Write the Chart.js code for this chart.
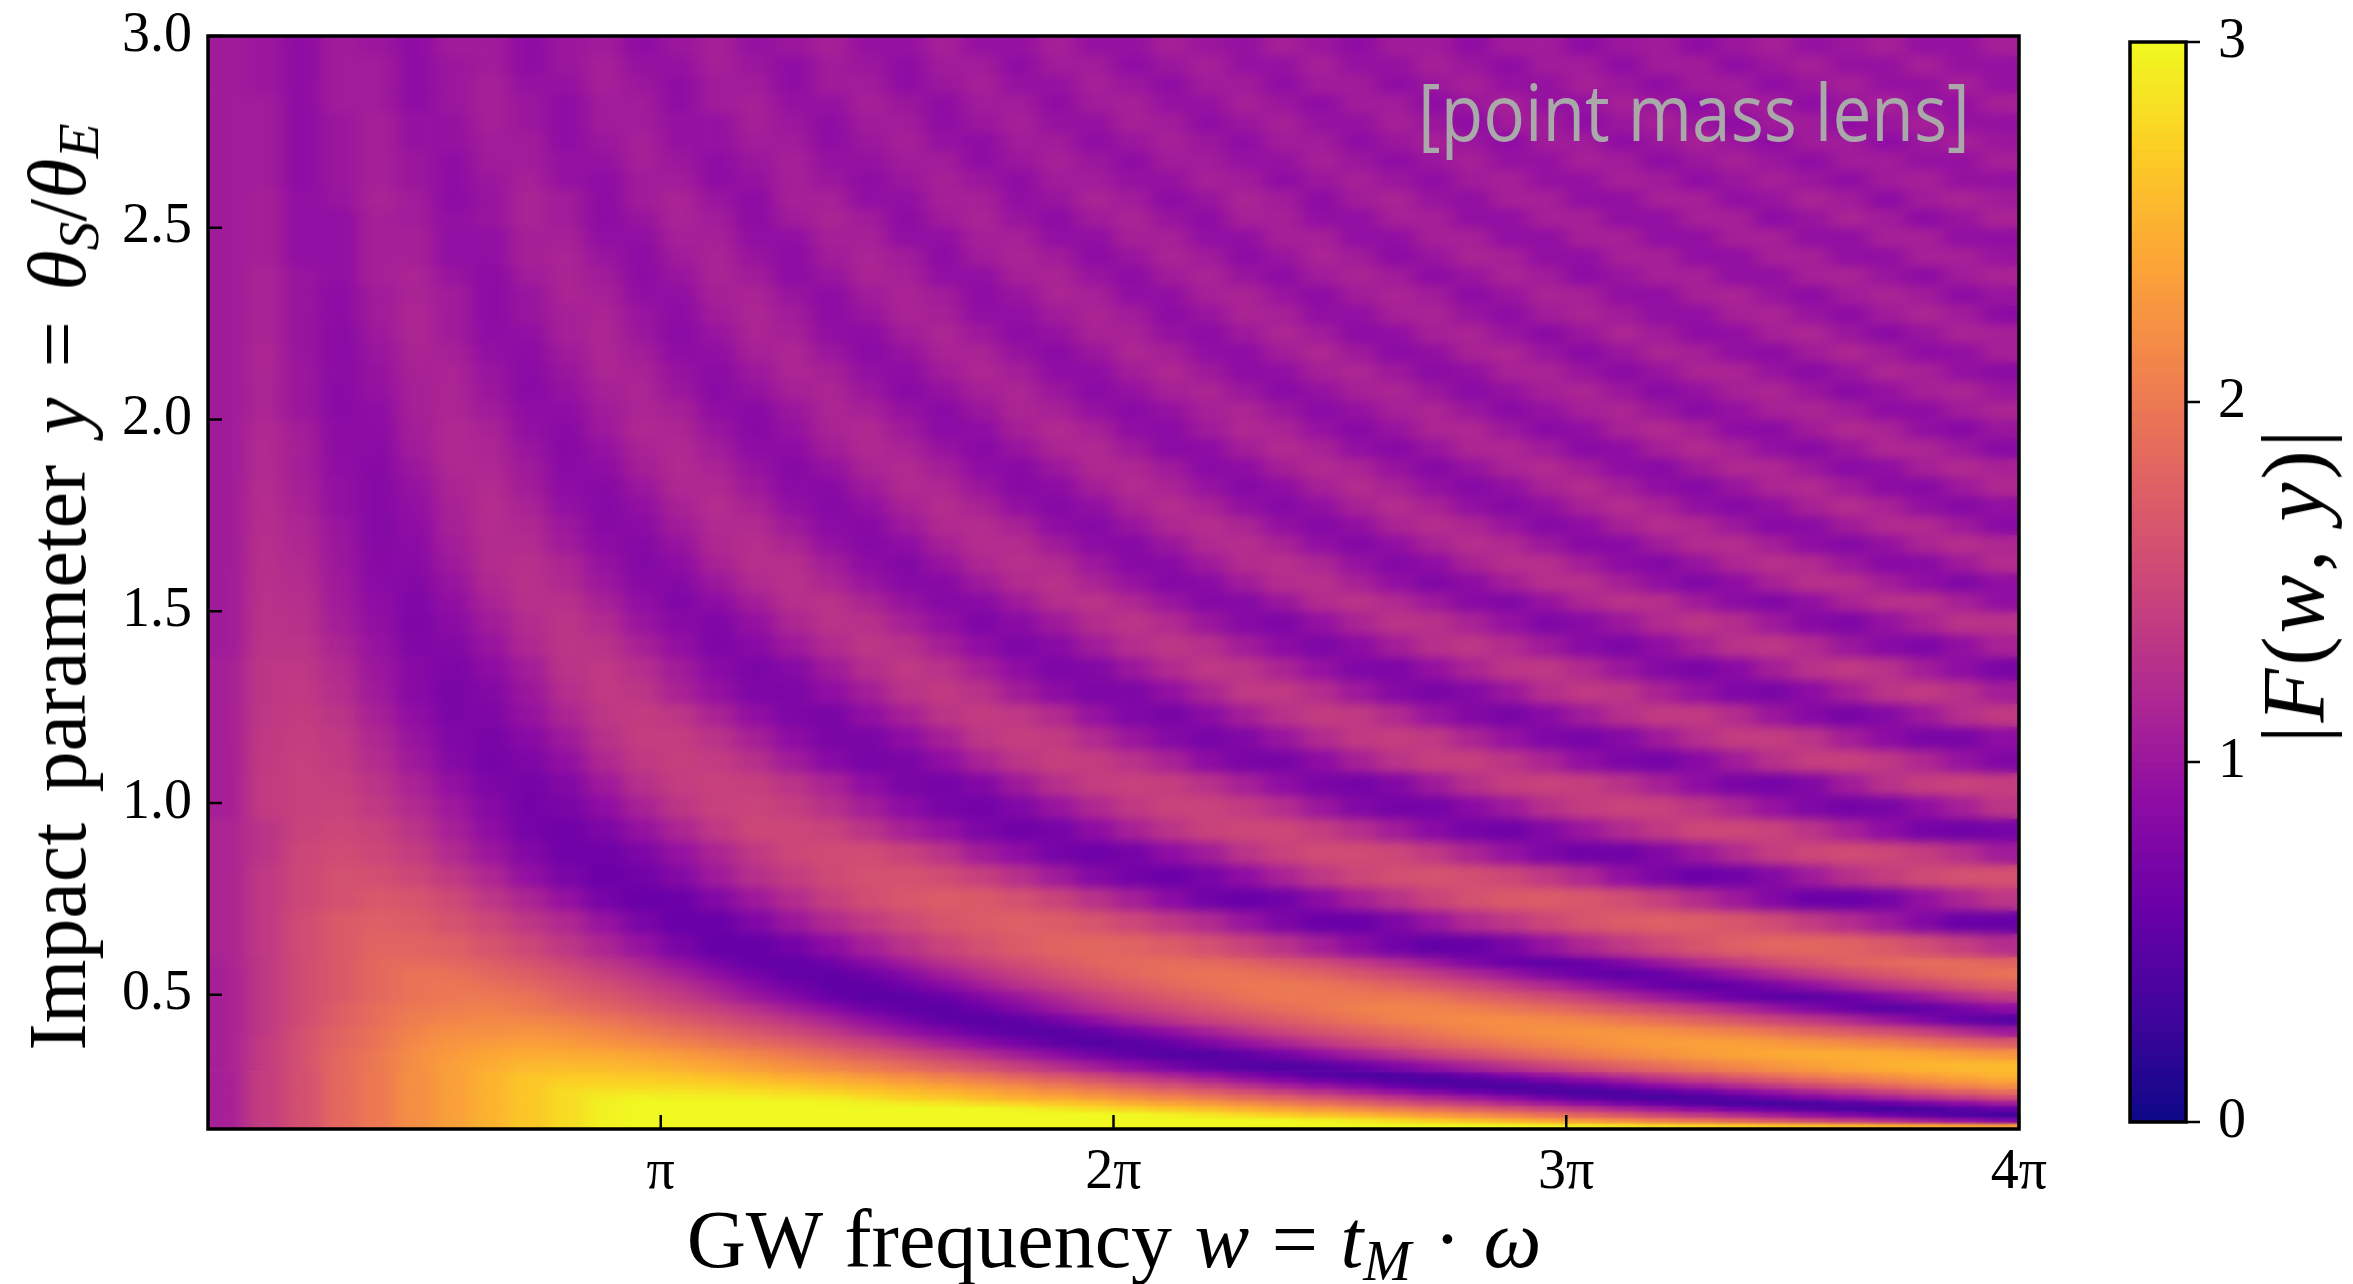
<!DOCTYPE html>
<html>
<head>
<meta charset="utf-8">
<script src="https://cdn.jsdelivr.net/npm/chart.js@4"></script>
<style>
  body { margin: 0; background: #fff; width: 2353px; height: 1284px; overflow: hidden; position: relative; }
  canvas { position: absolute; top: 0; }
  #main { left: 0; }
  #cbar { left: 2100px; }
  .lbl { position: absolute; white-space: nowrap; font-family: "Liberation Serif", serif; color: #000; line-height: 1; }
  .lbl sub { font-size: .7em; vertical-align: -.22em; line-height: 0; }
  #ytitle { left: 58px; top: 587px; font-size: 82px; word-spacing: 10px; transform: translate(-50%, -50%) rotate(-90deg); }
  #xtitle { left: 1114px; top: 1240px; font-size: 82px; word-spacing: 2px; transform: translate(-50%, -50%); }
  #ctitle { left: 2294px; top: 585px; font-size: 88px; letter-spacing: 3px; transform: translate(-50%, -50%) rotate(-90deg); }
  #note { left: 1418px; top: 72px; font-family: "Open Sans", sans-serif; font-size: 78px; color: #a9a9a9; transform: scaleX(0.89); transform-origin: left center; }
</style>
</head>
<body>
<canvas id="main" width="2353" height="1284"></canvas>
<canvas id="cbar" width="253" height="1284"></canvas>
<div class="lbl" id="ytitle">Impact parameter <i>y</i> = <i>θ<sub>S</sub></i>/<i>θ<sub>E</sub></i></div>
<div class="lbl" id="xtitle">GW frequency <i>w</i> = <i>t<sub>M</sub></i> · <i>ω</i></div>
<div class="lbl" id="ctitle">|<i>F</i>(<i>w</i>, <i>y</i>)|</div>
<div class="lbl" id="note">[point mass lens]</div>
<script>
// column centres in w
let wValues = [0.131,0.393,0.654,0.916,1.178,1.44,1.702,1.963,2.225,2.487,2.749,3.011,3.272,3.534,3.796,4.058,4.32,4.581,4.843,5.105,5.367,5.629,5.89,6.152,6.414,6.676,6.938,7.199,7.461,7.723,7.985,8.247,8.508,8.77,9.032,9.294,9.556,9.817,10.079,10.341,10.603,10.865,11.126,11.388,11.65,11.912,12.174,12.435];
// row edges in y, top to bottom
let yEdges = [3,2.95,2.9,2.85,2.8,2.75,2.7,2.65,2.6,2.55,2.5,2.45,2.4,2.35,2.3,2.25,2.2,2.15,2.1,2.05,2,1.95,1.9,1.85,1.8,1.75,1.7,1.65,1.6,1.55,1.5,1.44,1.38,1.32,1.26,1.2,1.14,1.08,1.02,0.96,0.9,0.84,0.78,0.72,0.66,0.6,0.57,0.54,0.51,0.48,0.45,0.42,0.39,0.36,0.33,0.3,0.285,0.27,0.255,0.24,0.225,0.21,0.195,0.18,0.165,0.15];
// |F|, one line per row
let fValues = [
[1.05,1,0.9,1.05,1,0.9,1.05,1.05,0.9,1,1.05,0.9,1,1.1,0.95,1,1.1,0.95,0.95,1.1,0.95,0.95,1.1,0.95,0.95,1.1,1,0.95,1.1,1,0.9,1.05,1.05,0.9,1.05,1.05,0.9,1,1.05,0.9,1,1.1,0.95,1,1.1,0.95,0.95,1.1],
[1.05,1,0.9,1.05,1.05,0.9,1,1.05,0.9,1,1.1,0.95,0.95,1.1,1,0.9,1.05,1,0.9,1.05,1.05,0.9,1.05,1.05,0.9,1,1.1,0.95,0.95,1.1,0.95,0.95,1.1,1,0.9,1.05,1.05,0.9,1.05,1.05,0.9,1,1.1,0.95,0.95,1.1,0.95,0.95],
[1.05,1,0.9,1.05,1.05,0.9,1,1.1,0.95,0.95,1.1,1,0.9,1.05,1.05,0.9,1.05,1.05,0.9,1,1.1,0.95,0.95,1.1,1,0.9,1.05,1.05,0.9,1.05,1.05,0.9,1,1.1,0.95,0.95,1.1,1,0.9,1.05,1.05,0.9,1,1.1,0.95,0.95,1.1,0.95],
[1.05,1.05,0.9,1.05,1.05,0.9,1,1.1,1,0.9,1.05,1.05,0.9,1.05,1.1,0.95,0.95,1.1,1,0.9,1.05,1.05,0.9,1.05,1.1,0.95,0.95,1.1,1,0.9,1.05,1.05,0.9,1,1.1,0.95,0.95,1.1,1,0.9,1.05,1.05,0.9,1,1.1,0.95,0.95,1.1],
[1.05,1.05,0.9,1,1.1,0.95,0.95,1.1,1,0.9,1.05,1.05,0.95,0.95,1.1,1,0.9,1.05,1.05,0.9,1,1.1,0.95,0.95,1.1,1.05,0.9,1,1.1,0.95,0.95,1.1,1,0.9,1.05,1.05,0.9,1,1.1,1,0.9,1.05,1.05,0.9,1,1.1,0.95,0.95],
[1.05,1.05,0.9,1,1.1,0.95,0.95,1.05,1.05,0.9,1,1.1,0.95,0.95,1.05,1.05,0.9,1,1.1,0.95,0.9,1.05,1.05,0.9,1,1.1,1,0.9,1.05,1.05,0.9,1,1.1,1,0.9,1.05,1.05,0.9,1,1.1,1,0.9,1.05,1.05,0.9,1,1.1,1],
[1.05,1.05,0.9,1,1.1,1,0.9,1.05,1.05,0.95,0.95,1.1,1,0.9,1,1.1,0.95,0.95,1.05,1.05,0.9,1,1.1,1,0.9,1.05,1.05,0.95,0.95,1.1,1,0.9,1,1.1,0.95,0.95,1.1,1.05,0.9,1,1.1,1,0.9,1.05,1.05,0.95,0.95,1.1],
[1.05,1.05,0.9,1,1.1,1,0.9,1,1.1,0.95,0.9,1.05,1.05,0.9,0.95,1.1,1,0.9,1,1.1,1,0.9,1.05,1.05,0.95,0.95,1.1,1.05,0.9,1,1.1,1,0.9,1.05,1.1,0.95,0.95,1.1,1.05,0.9,1,1.1,1,0.9,1.05,1.1,0.95,0.95],
[1.05,1.1,0.92,0.98,1.14,1.05,0.88,0.98,1.14,1.05,0.88,1.05,1.14,0.98,0.88,1.1,1.1,0.92,0.92,1.1,1.1,0.92,0.98,1.14,1.05,0.88,0.98,1.14,1.05,0.88,1.05,1.14,0.98,0.92,1.1,1.1,0.92,0.92,1.1,1.1,0.92,0.98,1.14,1.05,0.88,1.05,1.14,1.05],
[1.05,1.1,0.92,0.92,1.1,1.05,0.92,0.98,1.14,1.05,0.88,0.98,1.14,1.05,0.88,1.05,1.14,1.05,0.88,1.05,1.14,0.98,0.88,1.05,1.14,0.98,0.88,1.1,1.1,0.92,0.92,1.1,1.1,0.92,0.92,1.1,1.1,0.92,0.92,1.1,1.1,0.88,0.98,1.14,1.05,0.88,0.98,1.14],
[1.05,1.1,0.92,0.92,1.1,1.1,0.92,0.92,1.1,1.1,0.92,0.92,1.1,1.1,0.92,0.92,1.1,1.1,0.92,0.92,1.1,1.1,0.92,0.92,1.1,1.1,0.92,0.92,1.1,1.1,0.92,0.92,1.1,1.1,0.92,0.92,1.1,1.1,0.92,0.92,1.1,1.1,0.92,0.92,1.1,1.1,0.92,0.92],
[1.05,1.1,0.92,0.92,1.1,1.1,0.92,0.92,1.1,1.14,0.98,0.88,1.05,1.14,0.98,0.88,1.05,1.14,1.05,0.88,1.05,1.14,1.05,0.88,0.98,1.14,1.05,0.88,0.98,1.14,1.05,0.88,0.98,1.14,1.1,0.92,0.92,1.1,1.1,0.92,0.92,1.1,1.1,0.92,0.92,1.1,1.1,0.98],
[1.05,1.14,0.98,0.92,1.1,1.14,0.98,0.88,1.05,1.14,1.05,0.88,0.98,1.14,1.05,0.88,0.98,1.14,1.1,0.92,0.92,1.1,1.14,0.98,0.88,1.05,1.14,0.98,0.88,1.05,1.14,1.05,0.88,0.98,1.14,1.05,0.88,0.98,1.1,1.1,0.92,0.92,1.1,1.14,0.98,0.88,1.05,1.14],
[1.05,1.14,0.98,0.88,1.05,1.14,1.05,0.88,0.98,1.14,1.1,0.92,0.92,1.1,1.14,0.98,0.88,1.05,1.14,1.05,0.88,0.98,1.14,1.1,0.92,0.92,1.1,1.14,0.98,0.88,1.05,1.14,1.05,0.88,0.98,1.14,1.1,0.92,0.92,1.1,1.14,0.98,0.88,1.05,1.14,1.05,0.88,0.98],
[1.05,1.14,0.98,0.88,1.05,1.16,1.05,0.88,0.98,1.1,1.14,0.98,0.88,1.05,1.16,1.05,0.88,0.98,1.14,1.1,0.92,0.92,1.05,1.14,1.05,0.88,0.98,1.14,1.1,0.92,0.92,1.1,1.14,0.98,0.88,1.05,1.14,1.05,0.92,0.92,1.1,1.14,0.98,0.88,1.05,1.16,1.05,0.88],
[1.05,1.14,0.98,0.86,1.02,1.16,1.05,0.9,0.92,1.1,1.16,1,0.86,0.98,1.14,1.1,0.92,0.88,1.05,1.16,1.02,0.88,0.95,1.12,1.12,0.95,0.88,1.02,1.16,1.05,0.88,0.92,1.1,1.14,0.98,0.86,1,1.16,1.05,0.9,0.92,1.1,1.16,1,0.86,0.98,1.14,1.1],
[1.05,1.16,0.98,0.86,0.99,1.14,1.1,0.93,0.88,1.04,1.16,1.07,0.9,0.92,1.1,1.16,1,0.86,0.96,1.13,1.13,0.96,0.86,1,1.16,1.09,0.92,0.9,1.07,1.17,1.02,0.87,0.93,1.12,1.15,0.98,0.86,0.99,1.15,1.09,0.93,0.88,1.05,1.17,1.05,0.9,0.92,1.1],
[1.05,1.16,1,0.87,0.96,1.12,1.14,0.98,0.86,0.99,1.15,1.12,0.96,0.87,1.01,1.16,1.1,0.93,0.88,1.05,1.17,1.08,0.9,0.9,1.07,1.17,1.03,0.88,0.92,1.1,1.16,1.02,0.87,0.93,1.12,1.14,0.98,0.86,0.97,1.14,1.14,0.97,0.86,0.99,1.16,1.11,0.94,0.87],
[1.05,1.15,1,0.85,0.95,1.1,1.15,1,0.85,0.95,1.1,1.15,1,0.85,0.95,1.1,1.15,1,0.85,0.95,1.1,1.15,1,0.85,0.95,1.1,1.15,1,0.85,0.95,1.1,1.15,1,0.85,0.95,1.1,1.15,1,0.85,0.95,1.1,1.15,1,0.85,0.95,1.1,1.15,1],
[1.05,1.15,1,0.85,0.9,1.1,1.15,1.05,0.9,0.9,1.05,1.15,1.1,0.9,0.85,1,1.15,1.1,0.95,0.85,1,1.15,1.1,0.95,0.85,0.95,1.1,1.15,1,0.85,0.95,1.1,1.15,1,0.85,0.95,1.1,1.15,1,0.85,0.95,1.1,1.15,1.05,0.9,0.9,1.05,1.15],
[1.05,1.19,1.07,0.88,0.88,1.08,1.19,1.12,0.93,0.85,1.02,1.18,1.15,0.98,0.84,0.95,1.13,1.19,1.03,0.86,0.9,1.09,1.2,1.1,0.91,0.86,1.04,1.18,1.13,0.95,0.84,0.97,1.15,1.17,1.01,0.85,0.92,1.12,1.2,1.09,0.89,0.87,1.06,1.19,1.13,0.93,0.84,0.99],
[1.05,1.2,1.09,0.88,0.86,1.05,1.19,1.15,0.98,0.84,0.95,1.13,1.19,1.05,0.88,0.88,1.07,1.19,1.13,0.96,0.84,0.97,1.15,1.19,1.03,0.86,0.88,1.08,1.2,1.12,0.93,0.84,0.98,1.16,1.17,1.04,0.85,0.9,1.09,1.2,1.1,0.93,0.85,1,1.17,1.16,1.01,0.85],
[1.05,1.2,1.08,0.9,0.84,1.01,1.18,1.17,1.03,0.85,0.89,1.09,1.2,1.13,0.96,0.83,0.95,1.14,1.2,1.08,0.9,0.84,1.01,1.18,1.17,1.03,0.85,0.9,1.09,1.2,1.13,0.96,0.83,0.96,1.14,1.2,1.07,0.89,0.85,1.03,1.18,1.17,1.01,0.85,0.91,1.1,1.2,1.12],
[1.05,1.22,1.1,0.93,0.82,0.96,1.14,1.21,1.06,0.88,0.84,1,1.18,1.18,1.02,0.86,0.85,1.04,1.2,1.17,0.99,0.84,0.88,1.08,1.21,1.13,0.96,0.82,0.91,1.1,1.22,1.11,0.94,0.82,0.93,1.13,1.22,1.08,0.91,0.82,0.98,1.16,1.2,1.04,0.87,0.84,1.02,1.18],
[1.05,1.23,1.12,0.93,0.82,0.93,1.12,1.23,1.12,0.93,0.82,0.93,1.12,1.23,1.12,0.93,0.82,0.93,1.12,1.23,1.12,0.93,0.82,0.93,1.12,1.23,1.12,0.93,0.82,0.93,1.12,1.23,1.12,0.93,0.82,0.93,1.12,1.23,1.12,0.93,0.82,0.93,1.12,1.23,1.12,0.93,0.82,0.93],
[1.05,1.24,1.16,0.98,0.82,0.9,1.11,1.22,1.18,1.01,0.84,0.87,1.06,1.2,1.2,1.03,0.86,0.84,1.02,1.2,1.22,1.11,0.9,0.82,0.98,1.17,1.24,1.14,0.93,0.81,0.93,1.14,1.24,1.16,0.98,0.82,0.9,1.11,1.23,1.18,1.01,0.84,0.87,1.06,1.2,1.2,1.03,0.86],
[1.05,1.25,1.17,1,0.83,0.87,1.07,1.21,1.21,1.04,0.88,0.82,0.97,1.18,1.25,1.14,0.94,0.82,0.9,1.1,1.23,1.22,1.04,0.87,0.83,1,1.19,1.24,1.12,0.92,0.8,0.92,1.12,1.24,1.19,1.01,0.84,0.85,1.05,1.21,1.23,1.08,0.9,0.81,0.95,1.15,1.25,1.17],
[1.05,1.26,1.2,1.01,0.84,0.85,1.03,1.22,1.26,1.16,0.95,0.8,0.9,1.12,1.25,1.25,1.07,0.88,0.8,0.97,1.17,1.26,1.2,1.01,0.84,0.85,1.03,1.22,1.26,1.16,0.95,0.8,0.9,1.12,1.25,1.25,1.07,0.88,0.8,0.97,1.17,1.26,1.2,1.01,0.84,0.85,1.03,1.22],
[1.05,1.27,1.22,1.03,0.86,0.81,0.97,1.18,1.28,1.18,1.01,0.84,0.82,1.01,1.2,1.28,1.16,0.98,0.83,0.84,1.03,1.21,1.28,1.13,0.96,0.8,0.86,1.06,1.24,1.26,1.11,0.93,0.79,0.88,1.08,1.25,1.26,1.09,0.92,0.78,0.9,1.11,1.27,1.25,1.07,0.91,0.78,0.92],
[1.05,1.28,1.25,1.04,0.89,0.78,0.93,1.13,1.27,1.27,1.1,0.92,0.78,0.89,1.08,1.25,1.29,1.14,0.96,0.81,0.85,1.04,1.24,1.3,1.17,0.98,0.81,0.82,1,1.22,1.3,1.19,1.02,0.84,0.79,0.96,1.17,1.29,1.25,1.04,0.87,0.78,0.93,1.13,1.27,1.27,1.1,0.92],
[1.05,1.29,1.27,1.08,0.92,0.77,0.87,1.05,1.22,1.31,1.2,0.98,0.84,0.78,0.94,1.16,1.29,1.27,1.1,0.93,0.77,0.87,1.03,1.22,1.31,1.2,1,0.83,0.77,0.94,1.14,1.3,1.27,1.12,0.95,0.78,0.85,1.01,1.2,1.31,1.22,1.02,0.84,0.77,0.95,1.12,1.29,1.28],
[1.05,1.3,1.3,1.14,0.96,0.79,0.8,0.97,1.18,1.32,1.29,1.11,0.93,0.77,0.84,1.02,1.2,1.33,1.27,1.09,0.9,0.75,0.85,1.05,1.23,1.33,1.26,1.05,0.88,0.75,0.88,1.08,1.26,1.33,1.21,1.03,0.85,0.75,0.91,1.1,1.28,1.33,1.2,1,0.84,0.76,0.93,1.12],
[1.1,1.33,1.34,1.2,1,0.84,0.75,0.88,1.07,1.3,1.35,1.24,1.05,0.86,0.74,0.83,1.03,1.24,1.35,1.28,1.09,0.9,0.75,0.8,1,1.2,1.34,1.31,1.14,0.95,0.78,0.77,0.94,1.14,1.32,1.34,1.2,1,0.82,0.74,0.86,1.08,1.28,1.35,1.28,1.07,0.89,0.74],
[1.1,1.33,1.36,1.24,1.03,0.84,0.73,0.81,1,1.24,1.36,1.32,1.12,0.94,0.76,0.75,0.91,1.08,1.3,1.37,1.28,1.06,0.88,0.75,0.76,0.93,1.14,1.35,1.36,1.22,1.02,0.83,0.73,0.82,1,1.24,1.36,1.32,1.12,0.95,0.78,0.74,0.88,1.09,1.3,1.37,1.27,1.07],
[1.1,1.34,1.39,1.3,1.1,0.9,0.74,0.77,0.95,1.15,1.33,1.39,1.32,1.13,0.92,0.76,0.73,0.92,1.1,1.31,1.39,1.34,1.2,0.95,0.78,0.72,0.87,1.08,1.28,1.39,1.36,1.2,0.97,0.8,0.72,0.85,1.05,1.25,1.38,1.37,1.22,1,0.83,0.72,0.82,1.02,1.25,1.37],
[1.1,1.36,1.41,1.35,1.17,0.97,0.78,0.72,0.84,1.03,1.27,1.4,1.4,1.29,1.1,0.88,0.74,0.74,0.9,1.1,1.33,1.41,1.38,1.2,1,0.82,0.71,0.79,0.98,1.2,1.37,1.41,1.35,1.15,0.95,0.78,0.71,0.82,1.03,1.25,1.39,1.4,1.3,1.08,0.88,0.74,0.73,0.9],
[1.1,1.37,1.43,1.38,1.22,1.02,0.82,0.7,0.76,0.93,1.18,1.36,1.42,1.39,1.26,1.05,0.84,0.71,0.74,0.91,1.13,1.32,1.42,1.4,1.28,1.12,0.88,0.73,0.72,0.88,1.1,1.3,1.42,1.42,1.31,1.14,0.92,0.75,0.7,0.84,1.05,1.27,1.41,1.43,1.34,1.17,0.96,0.79],
[1.1,1.38,1.44,1.42,1.3,1.13,0.93,0.75,0.69,0.8,1.03,1.26,1.4,1.44,1.42,1.3,1.13,0.9,0.73,0.69,0.8,1.03,1.26,1.4,1.44,1.41,1.28,1.1,0.9,0.73,0.69,0.8,1.03,1.26,1.41,1.45,1.41,1.28,1.1,0.9,0.73,0.69,0.8,1.05,1.28,1.41,1.45,1.41],
[1.1,1.38,1.44,1.46,1.35,1.2,1.02,0.83,0.68,0.73,0.9,1.12,1.32,1.44,1.47,1.41,1.26,1.08,0.88,0.72,0.67,0.78,0.98,1.18,1.36,1.45,1.46,1.38,1.23,1,0.8,0.69,0.69,0.86,1.03,1.26,1.4,1.46,1.44,1.32,1.15,0.95,0.78,0.68,0.73,0.92,1.1,1.32],
[1.15,1.3,1.45,1.5,1.45,1.3,1.1,0.9,0.7,0.65,0.75,0.95,1.15,1.35,1.5,1.5,1.45,1.3,1.1,0.95,0.75,0.65,0.7,0.9,1.1,1.3,1.45,1.5,1.5,1.4,1.25,1.05,0.85,0.7,0.65,0.8,1,1.2,1.35,1.5,1.5,1.45,1.3,1.1,0.9,0.7,0.65,0.7],
[1.15,1.3,1.5,1.55,1.5,1.4,1.2,1,0.8,0.65,0.65,0.75,0.95,1.15,1.35,1.5,1.55,1.55,1.45,1.3,1.05,0.9,0.7,0.63,0.7,0.9,1.05,1.3,1.45,1.55,1.55,1.5,1.35,1.15,0.95,0.75,0.65,0.65,0.8,1,1.2,1.4,1.5,1.55,1.5,1.4,1.25,1.05],
[1.15,1.35,1.5,1.6,1.58,1.5,1.36,1.17,0.93,0.74,0.62,0.66,0.82,1.04,1.26,1.4,1.53,1.6,1.61,1.55,1.43,1.26,1.04,0.82,0.68,0.61,0.71,0.9,1.13,1.34,1.49,1.58,1.62,1.58,1.5,1.36,1.17,0.93,0.74,0.62,0.66,0.82,1.04,1.26,1.4,1.53,1.6,1.61],
[1.15,1.35,1.5,1.6,1.68,1.64,1.52,1.33,1.15,0.94,0.7,0.6,0.62,0.8,1.02,1.22,1.42,1.57,1.67,1.72,1.7,1.6,1.47,1.28,1.09,0.87,0.66,0.59,0.66,0.87,1.09,1.28,1.47,1.6,1.7,1.72,1.67,1.57,1.42,1.22,1.02,0.8,0.62,0.6,0.7,0.94,1.15,1.33],
[1.15,1.35,1.55,1.7,1.75,1.72,1.62,1.5,1.33,1.18,0.96,0.73,0.59,0.6,0.78,1,1.2,1.37,1.52,1.65,1.72,1.75,1.72,1.63,1.5,1.34,1.2,0.98,0.75,0.6,0.6,0.75,0.98,1.2,1.34,1.5,1.63,1.72,1.75,1.73,1.66,1.54,1.38,1.22,1.03,0.8,0.6,0.58],
[1.15,1.35,1.55,1.7,1.8,1.8,1.75,1.63,1.5,1.33,1.15,0.95,0.72,0.57,0.56,0.68,0.88,1.1,1.3,1.47,1.6,1.72,1.8,1.82,1.79,1.71,1.6,1.45,1.28,1.08,0.87,0.66,0.55,0.58,0.72,0.96,1.17,1.35,1.51,1.65,1.75,1.81,1.82,1.78,1.69,1.56,1.41,1.24],
[1.12,1.35,1.55,1.7,1.85,1.87,1.83,1.75,1.63,1.49,1.33,1.15,0.94,0.71,0.56,0.54,0.64,0.85,1.07,1.27,1.43,1.58,1.7,1.81,1.86,1.88,1.85,1.78,1.67,1.54,1.38,1.2,1,0.77,0.6,0.52,0.6,0.77,1,1.2,1.38,1.54,1.67,1.78,1.85,1.88,1.87,1.8],
[1.1,1.35,1.55,1.7,1.85,1.95,1.93,1.84,1.74,1.61,1.46,1.3,1.1,0.88,0.68,0.54,0.53,0.65,0.83,1.07,1.27,1.43,1.58,1.72,1.83,1.9,1.95,1.94,1.87,1.78,1.66,1.52,1.37,1.18,0.98,0.75,0.59,0.51,0.59,0.75,0.98,1.18,1.37,1.52,1.66,1.78,1.87,1.94],
[1.1,1.35,1.55,1.7,1.85,1.95,1.98,1.92,1.83,1.71,1.58,1.43,1.27,1.07,0.85,0.66,0.53,0.53,0.66,0.85,1.07,1.27,1.43,1.58,1.71,1.83,1.92,1.98,2,1.96,1.88,1.78,1.66,1.52,1.36,1.18,0.98,0.78,0.6,0.5,0.58,0.74,0.93,1.15,1.33,1.48,1.63,1.76],
[1.1,1.35,1.55,1.7,1.85,1.95,2,2,1.95,1.8,1.7,1.55,1.4,1.2,1,0.8,0.6,0.5,0.5,0.6,0.8,1,1.2,1.4,1.55,1.7,1.8,1.95,2,2,2,2,1.95,1.8,1.7,1.55,1.4,1.2,1,0.8,0.6,0.5,0.5,0.6,0.8,1,1.2,1.4],
[1.1,1.35,1.55,1.75,1.9,2,2.05,2.07,2,1.91,1.81,1.69,1.55,1.42,1.25,1.06,0.86,0.65,0.52,0.5,0.62,0.82,1.02,1.22,1.39,1.52,1.67,1.79,1.89,1.98,2.06,2.1,2.09,2.05,1.97,1.88,1.76,1.63,1.5,1.36,1.18,0.97,0.78,0.6,0.47,0.54,0.7,0.9],
[1.1,1.35,1.55,1.75,1.9,2.05,2.1,2.15,2.13,2.06,1.97,1.86,1.73,1.59,1.46,1.3,1.13,0.91,0.7,0.53,0.45,0.53,0.7,0.91,1.13,1.3,1.46,1.59,1.73,1.86,1.97,2.06,2.13,2.18,2.19,2.15,2.08,1.99,1.89,1.77,1.63,1.49,1.35,1.18,0.98,0.76,0.56,0.46],
[1.1,1.35,1.6,1.8,1.95,2.1,2.2,2.2,2.24,2.2,2.12,2.01,1.9,1.78,1.66,1.52,1.35,1.14,0.94,0.76,0.58,0.48,0.46,0.56,0.72,0.91,1.1,1.3,1.49,1.63,1.75,1.87,2,2.1,2.18,2.23,2.26,2.25,2.21,2.15,2.06,1.95,1.82,1.7,1.58,1.43,1.22,1.02],
[1.1,1.4,1.6,1.8,1.95,2.15,2.25,2.3,2.35,2.31,2.24,2.17,2.08,1.98,1.87,1.75,1.6,1.45,1.26,1.06,0.87,0.69,0.53,0.43,0.47,0.58,0.76,0.95,1.14,1.33,1.5,1.66,1.8,1.92,2.03,2.12,2.2,2.27,2.33,2.35,2.34,2.3,2.23,2.15,2.07,1.96,1.85,1.72],
[1.1,1.4,1.6,1.85,2,2.2,2.3,2.4,2.45,2.44,2.42,2.37,2.3,2.21,2.11,2,1.87,1.73,1.58,1.42,1.24,1.05,0.86,0.68,0.52,0.43,0.44,0.54,0.7,0.9,1.09,1.27,1.45,1.61,1.77,1.9,2.03,2.13,2.22,2.31,2.38,2.42,2.45,2.46,2.44,2.39,2.33,2.25],
[1.1,1.4,1.6,1.85,2,2.2,2.35,2.45,2.55,2.55,2.54,2.51,2.46,2.39,2.3,2.21,2.1,2,1.87,1.73,1.59,1.42,1.24,1.06,0.88,0.7,0.54,0.44,0.4,0.47,0.6,0.78,0.95,1.14,1.31,1.49,1.65,1.79,1.92,2.03,2.14,2.25,2.34,2.42,2.48,2.53,2.55,2.56],
[1.1,1.4,1.6,1.85,2,2.2,2.35,2.5,2.6,2.65,2.65,2.63,2.6,2.54,2.48,2.4,2.33,2.23,2.13,2.02,1.89,1.74,1.6,1.44,1.28,1.1,0.94,0.76,0.6,0.46,0.39,0.42,0.52,0.66,0.83,1,1.17,1.34,1.5,1.66,1.81,1.94,2.06,2.17,2.27,2.36,2.44,2.51],
[1.1,1.4,1.6,1.85,2,2.2,2.35,2.5,2.65,2.7,2.71,2.7,2.68,2.64,2.59,2.53,2.46,2.38,2.28,2.17,2.06,1.94,1.8,1.66,1.5,1.35,1.18,1,0.83,0.66,0.52,0.43,0.37,0.44,0.54,0.7,0.86,1.03,1.21,1.38,1.53,1.68,1.83,1.97,2.08,2.19,2.3,2.39],
[1.1,1.4,1.6,1.85,2,2.2,2.35,2.5,2.65,2.75,2.77,2.78,2.77,2.75,2.71,2.66,2.6,2.53,2.45,2.36,2.26,2.14,2.02,1.89,1.75,1.61,1.46,1.29,1.12,0.96,0.8,0.62,0.5,0.42,0.37,0.44,0.54,0.7,0.86,1.03,1.2,1.36,1.52,1.67,1.82,1.95,2.08,2.2],
[1.1,1.4,1.6,1.85,2,2.2,2.35,2.5,2.65,2.8,2.85,2.85,2.85,2.83,2.81,2.77,2.72,2.66,2.58,2.51,2.42,2.32,2.21,2.1,1.99,1.86,1.73,1.58,1.43,1.27,1.1,0.94,0.78,0.62,0.5,0.42,0.35,0.43,0.52,0.64,0.82,0.97,1.14,1.3,1.46,1.61,1.76,1.89],
[1.1,1.4,1.6,1.85,2,2.2,2.35,2.5,2.65,2.8,2.9,2.95,2.94,2.94,2.92,2.9,2.88,2.8,2.7,2.65,2.55,2.45,2.4,2.3,2.2,2.1,2,1.85,1.75,1.6,1.45,1.3,1.15,1,0.85,0.65,0.5,0.4,0.35,0.4,0.5,0.65,0.8,0.95,1.1,1.25,1.4,1.55],
[1.1,1.4,1.6,1.85,2,2.2,2.35,2.5,2.65,2.8,2.95,3,3,3,3,3,2.98,2.94,2.9,2.85,2.78,2.72,2.65,2.58,2.47,2.38,2.28,2.17,2.05,1.92,1.78,1.63,1.48,1.34,1.18,1.03,0.87,0.7,0.57,0.45,0.37,0.33,0.38,0.48,0.6,0.73,0.9,1.06],
[1.1,1.4,1.6,1.85,2,2.2,2.35,2.5,2.65,2.8,2.95,3,3,3,3,3,3,3,3,3,3,2.96,2.88,2.81,2.74,2.65,2.57,2.47,2.37,2.27,2.15,2.03,1.9,1.77,1.63,1.49,1.33,1.17,1.01,0.86,0.7,0.58,0.47,0.37,0.32,0.37,0.47,0.58],
[1.1,1.4,1.6,1.85,2,2.2,2.35,2.5,2.65,2.8,2.95,3,3,3,3,3,3,3,3,3,3,3,3,3,3,2.93,2.85,2.76,2.67,2.59,2.5,2.39,2.27,2.16,2.04,1.9,1.77,1.63,1.48,1.34,1.2,1.07,0.93,0.78,0.63,0.52,0.42,0.32],
[1.1,1.4,1.6,1.85,2,2.2,2.35,2.5,2.65,2.8,2.95,3,3,3,3,3,3,3,3,3,3,3,3,3,3,3,3,3,3,2.95,2.88,2.78,2.68,2.58,2.48,2.37,2.26,2.15,2.02,1.9,1.77,1.64,1.49,1.35,1.21,1.06,0.92,0.78],
[1.1,1.4,1.6,1.85,2,2.2,2.35,2.5,2.65,2.8,2.95,3,3,3,3,3,3,3,3,3,3,3,3,3,3,3,3,3,3,3,3,3,3,3,2.98,2.95,2.9,2.85,2.8,2.75,2.7,2.65,2.6,2.55,2.5,2.45,2.4,2.35]
];
let yTickValues = [0.5,1,1.5,2,2.5,3];
let xTickValues = [3.1416,6.2832,9.4248,12.5664];
let xTickLabels = ['π','2π','3π','4π'];
let cbarTickValues = [0,1,2,3];
let plasmaStops = ['#0d0887','#41049d','#6a00a8','#8f0da4','#b12a90','#cc4778','#e16462','#f2844b','#fca636','#fcce25','#f0f921'];

function hexToRgb(h) {
  return [parseInt(h.slice(1,3),16), parseInt(h.slice(3,5),16), parseInt(h.slice(5,7),16)];
}

// value on the 0..3 colour range -> plasma
function plasma(v) {
  let t = Math.min(1, Math.max(0, v / 3)) * (plasmaStops.length - 1);
  let i = Math.min(plasmaStops.length - 2, Math.floor(t));
  let a = hexToRgb(plasmaStops[i]), b = hexToRgb(plasmaStops[i+1]);
  let f = t - i;
  return 'rgb(' + a.map((c,k) => Math.round(c + (b[k]-c)*f)).join(',') + ')';
}

// one bar dataset per row of the table
let rowSets = fValues.map(function(row, i) {
  return {
    data: wValues.map((w, j) => ({ x: w, y: [yEdges[i+1], yEdges[i]] })),
    backgroundColor: row.map(plasma),
    borderWidth: 0,
    barPercentage: 1,
    categoryPercentage: 1,
    grouped: false
  };
});

// the cells come out blocky, smooth them a bit. sx squeezes x so the blur is wider that way
let smoothZones = [
  { from: 3, to: 0.6, sx: 2, blur: 5 },
  { from: 0.6, to: 0.3, sx: 4, blur: 3 },
  { from: 0.3, to: 0.15, sx: 6, blur: 1.5 }
];

let smoothPlugin = {
  id: 'smooth',
  afterDatasetsDraw(chart) {
    let a = chart.chartArea, ctx = chart.ctx, y = chart.scales.y;
    let snap = document.createElement('canvas');
    snap.width = a.right - a.left; snap.height = a.bottom - a.top;
    snap.getContext('2d').drawImage(chart.canvas, a.left, a.top, snap.width, snap.height, 0, 0, snap.width, snap.height);
    smoothZones.forEach(function(z) {
      let tmp = document.createElement('canvas');
      tmp.width = Math.round(snap.width / z.sx); tmp.height = snap.height;
      let t = tmp.getContext('2d');
      t.filter = 'blur(' + z.blur + 'px)';
      t.drawImage(snap, 0, 0, tmp.width, tmp.height);
      let top = y.getPixelForValue(z.from), bot = y.getPixelForValue(z.to);
      ctx.save();
      ctx.beginPath();
      ctx.rect(a.left, top, a.right - a.left, bot - top);
      ctx.clip();
      ctx.drawImage(tmp, a.left, a.top, snap.width, snap.height);
      ctx.restore();
    });
  }
};

// inward ticks and the box round the plot
let framePlugin = {
  id: 'frame',
  afterDraw(chart) {
    let a = chart.chartArea, ctx = chart.ctx;
    ctx.save();
    ctx.strokeStyle = '#000';
    ctx.lineWidth = 2.5;
    ctx.beginPath();
    xTickValues.forEach(function(v) {
      let p = chart.scales.x.getPixelForValue(v);
      ctx.moveTo(p, a.bottom); ctx.lineTo(p, a.bottom - 14);
    });
    yTickValues.forEach(function(v) {
      let p = chart.scales.y.getPixelForValue(v);
      ctx.moveTo(a.left, p); ctx.lineTo(a.left + 14, p);
    });
    ctx.stroke();
    ctx.lineWidth = 3.5;
    ctx.strokeRect(a.left, a.top, a.right - a.left, a.bottom - a.top);
    ctx.restore();
  }
};

let tickFont = { family: 'Liberation Serif', size: 56 };

new Chart(document.getElementById('main').getContext('2d'), {
  type: 'bar',
  data: { datasets: rowSets },
  plugins: [smoothPlugin, framePlugin],
  options: {
    responsive: false,
    animation: false,
    layout: { padding: { top: 36, right: 334, left: 0, bottom: 0 } },
    plugins: { legend: { display: false }, tooltip: { enabled: false } },
    scales: {
      x: {
        type: 'linear', min: 0, max: 12.5664, offset: false,
        grid: { display: false, offset: false, z: 1 },
        border: { display: false },
        afterFit(s) { s.height = 155; s.paddingLeft = 0; s.paddingRight = 0; },
        afterBuildTicks(s) { s.ticks = xTickValues.map(v => ({ value: v })); },
        ticks: {
          z: 1, autoSkip: false, maxRotation: 0, color: '#000', font: tickFont, padding: 3,
          callback: (v) => xTickLabels[xTickValues.indexOf(v)]
        }
      },
      y: {
        type: 'linear', min: 0.15, max: 3,
        grid: { display: false, z: 1 },
        border: { display: false },
        afterFit(s) { s.width = 208; s.paddingTop = 0; s.paddingBottom = 0; },
        afterBuildTicks(s) { s.ticks = yTickValues.map(v => ({ value: v })); },
        ticks: {
          z: 1, autoSkip: false, color: '#000', font: tickFont, padding: 8,
          callback: (v) => v.toFixed(1)
        }
      }
    }
  }
});

// colour bar
let cbarSets = [];
for (let k = 0; k < 120; k++) {
  cbarSets.push({
    data: [[k * 0.025, (k + 1) * 0.025]],
    backgroundColor: plasma((k + 0.5) * 0.025),
    borderWidth: 0, barPercentage: 1, categoryPercentage: 1, grouped: false
  });
}

let cbarFrame = {
  id: 'cbarFrame',
  afterDraw(chart) {
    let a = chart.chartArea, ctx = chart.ctx;
    ctx.save();
    ctx.strokeStyle = '#000';
    ctx.lineWidth = 2.5;
    ctx.beginPath();
    cbarTickValues.forEach(function(v) {
      let p = chart.scales.y.getPixelForValue(v);
      ctx.moveTo(a.right, p); ctx.lineTo(a.right + 14, p);
    });
    ctx.stroke();
    ctx.lineWidth = 3.5;
    ctx.strokeRect(a.left, a.top, a.right - a.left, a.bottom - a.top);
    ctx.restore();
  }
};

new Chart(document.getElementById('cbar').getContext('2d'), {
  type: 'bar',
  data: { labels: ['F'], datasets: cbarSets },
  plugins: [cbarFrame],
  options: {
    responsive: false,
    animation: false,
    layout: { padding: { top: 42, left: 30, right: 0, bottom: 162 } },
    plugins: { legend: { display: false }, tooltip: { enabled: false } },
    scales: {
      x: { display: false },
      y: {
        position: 'right', type: 'linear', min: 0, max: 3,
        grid: { display: false },
        border: { display: false },
        afterFit(s) { s.width = 167; s.paddingTop = 0; s.paddingBottom = 0; },
        afterBuildTicks(s) { s.ticks = cbarTickValues.map(v => ({ value: v })); },
        ticks: { color: '#000', font: tickFont, padding: 24, callback: (v) => String(v) }
      }
    }
  }
});
</script>
</body>
</html>
